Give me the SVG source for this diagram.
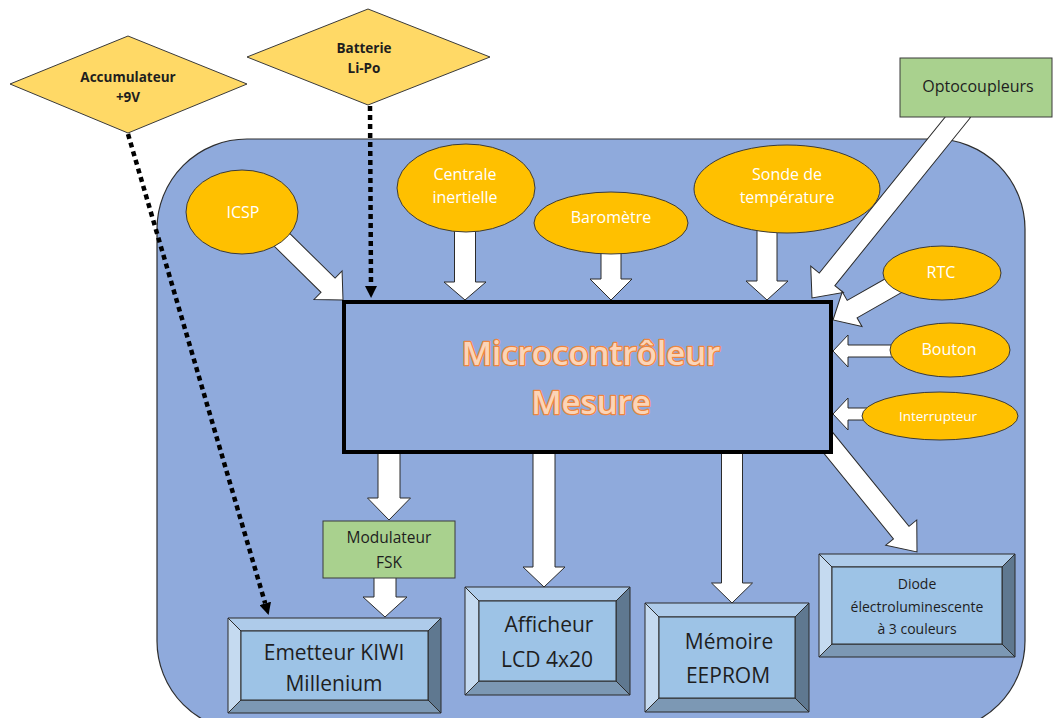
<svg xmlns="http://www.w3.org/2000/svg" width="1054" height="718" viewBox="0 0 1054 718">
  <defs>
    <style>
      .t { font-family: "Open Sans", "Liberation Sans", sans-serif; text-anchor: middle; }
      .w { fill: #ffffff; font-size: 16px; }
      .d { fill: #1e1e1e; }
      .ell { fill: #FFC000; stroke: #3a3a3a; stroke-width: 1; }
      .blk { fill: #ffffff; stroke: #2b2b2b; stroke-width: 1; stroke-linejoin: miter; }
      .dot { fill: none; stroke: #000000; stroke-width: 4.5; stroke-dasharray: 5 4; }
      .dia { fill: #FFD966; stroke: #3a3a3a; stroke-width: 1; }
      .grn { fill: #A9D18E; stroke: #3a3a3a; stroke-width: 1; }
      .bv { stroke: #2b2b2b; stroke-width: 1; stroke-linejoin: miter; }
      .bv-c { fill: #9DC3E6; }
      .bv-t { fill: #AECBEA; }
      .bv-l { fill: #C5DAF0; }
      .bv-r { fill: #5F7890; }
      .bv-b { fill: #7C98B4; }
      .title { font-family: "Open Sans", "Liberation Sans", sans-serif; text-anchor: middle; font-size: 33px; font-weight: 600; fill: #FBD5B8; stroke: #EE8640; stroke-width: 2.6; paint-order: stroke; stroke-linejoin: round; }
    </style>
    <marker id="dotHead" markerUnits="userSpaceOnUse" markerWidth="12" markerHeight="12" refX="0" refY="6" orient="auto">
      <path d="M0,0 L12,6 L0,12 z" fill="#000000"/>
    </marker>
  </defs>

  <rect width="1054" height="718" fill="#ffffff"/>

  <!-- enclosing board -->
  <g id="board">
    <rect x="157" y="139" width="868" height="592" rx="90" ry="90" fill="#8FAADC" stroke="#2e2e2e" stroke-width="1.2"/>
  </g>

  <!-- connectors -->
  <g id="connectors">
    <!-- inputs into the microcontroller -->
    <polygon class="blk" transform="translate(343,300) rotate(44.6)" points="-104,-10 -21,-10 -21,-20 0,0 -21,20 -21,10 -104,10"/>
    <polygon class="blk" points="454.5,225 475.5,225 475.5,282 486,282 465,300 444,282 454.5,282"/>
    <polygon class="blk" points="601,250 621,250 621,279 632,279 611,300 590,279 601,279"/>
    <polygon class="blk" points="757,228 777,228 777,281 788,281 767,300 746,281 757,281"/>
    <polygon class="blk" transform="translate(812,298) rotate(128.9)" points="-240,-10 -24,-10 -24,-21 0,0 -24,21 -24,10 -240,10"/>
    <polygon class="blk" transform="translate(833,320) rotate(150.4)" points="-78,-10 -22,-10 -22,-20 0,0 -22,20 -22,10 -78,10"/>
    <polygon class="blk" transform="translate(833,351) rotate(180)" points="-62,-6 -15,-6 -15,-16 0,0 -15,16 -15,6 -62,6"/>
    <polygon class="blk" transform="translate(833,414) rotate(180)" points="-40,-6 -15,-6 -15,-16 0,0 -15,16 -15,6 -40,6"/>
    <!-- outputs from the microcontroller -->
    <polygon class="blk" points="378,450 400,450 400,498 410.5,498 389,520 367.5,498 378,498"/>
    <polygon class="blk" points="374,576 396,576 396,597 407,597 385,617 363,597 374,597"/>
    <polygon class="blk" points="533,450 555,450 555,567 565,567 544,587 523,567 533,567"/>
    <polygon class="blk" points="721.5,450 742.5,450 742.5,583 752.5,583 732,603 711.5,583 721.5,583"/>
    <polygon class="blk" transform="translate(917,552) rotate(50.9)" points="-146,-10 -25,-10 -25,-20 0,0 -25,20 -25,10 -146,10"/>
    <!-- power supply lines -->
    <line class="dot" x1="128" y1="134" x2="265.2" y2="603.4" marker-end="url(#dotHead)"/>
    <line class="dot" x1="370" y1="106" x2="371" y2="286" marker-end="url(#dotHead)"/>
  </g>

  <!-- microcontroller -->
  <g id="mcu">
    <rect x="344" y="302" width="487" height="150" fill="#8FAADC" stroke="#000000" stroke-width="4"/>
    <text class="title" x="591" y="365">Microcontrôleur</text>
    <text class="title" x="591" y="414">Mesure</text>
  </g>

  <!-- sensors and inputs -->
  <g id="icsp">
    <ellipse class="ell" cx="242" cy="212" rx="56" ry="42"/>
    <text class="t w" x="243" y="218">ICSP</text>
  </g>
  <g id="centrale">
    <ellipse class="ell" cx="466" cy="188" rx="69" ry="44"/>
    <text class="t w" x="465" y="180">Centrale</text>
    <text class="t w" x="465" y="203">inertielle</text>
  </g>
  <g id="barometre">
    <ellipse class="ell" cx="611" cy="223" rx="77" ry="31"/>
    <text class="t w" x="611" y="223">Baromètre</text>
  </g>
  <g id="sonde">
    <ellipse class="ell" cx="787" cy="189" rx="93" ry="44"/>
    <text class="t w" x="787" y="180">Sonde de</text>
    <text class="t w" x="787" y="203">température</text>
  </g>
  <g id="rtc">
    <ellipse class="ell" cx="942" cy="273" rx="59" ry="27"/>
    <text class="t w" x="941" y="278">RTC</text>
  </g>
  <g id="bouton">
    <ellipse class="ell" cx="950" cy="350" rx="60" ry="27"/>
    <text class="t w" x="949" y="355">Bouton</text>
  </g>
  <g id="interrupteur">
    <ellipse class="ell" cx="940" cy="416" rx="78" ry="24"/>
    <text class="t w" x="938" y="421" style="font-size:13.5px">Interrupteur</text>
  </g>
  <g id="optocoupleurs">
    <rect class="grn" x="900" y="58" width="152" height="59"/>
    <text class="t d" x="978" y="92" style="font-size:16px">Optocoupleurs</text>
  </g>

  <!-- power sources -->
  <g id="accumulateur">
    <polygon class="dia" points="10,84 128,36 247,84 128,133"/>
    <text class="t d" x="128" y="82" style="font-size:13.5px;font-weight:bold">Accumulateur</text>
    <text class="t d" x="128" y="102" style="font-size:13.5px;font-weight:bold">+9V</text>
  </g>
  <g id="batterie">
    <polygon class="dia" points="247,57 368,9 490,57 368,105"/>
    <text class="t d" x="364" y="53" style="font-size:13.5px;font-weight:bold">Batterie</text>
    <text class="t d" x="364" y="73" style="font-size:13.5px;font-weight:bold">Li-Po</text>
  </g>

  <!-- outputs -->
  <g id="modulateur">
    <rect class="grn" x="323" y="521" width="132" height="57"/>
    <text class="t d" x="389" y="543" style="font-size:15.5px">Modulateur</text>
    <text class="t d" x="389" y="568" style="font-size:15.5px">FSK</text>
  </g>
  <g id="emetteur">
    <g class="bv">
      <polygon class="bv-t" points="228,618 441,618 428,631 241,631"/>
      <polygon class="bv-l" points="228,618 241,631 241,700 228,713"/>
      <polygon class="bv-r" points="441,618 441,713 428,700 428,631"/>
      <polygon class="bv-b" points="228,713 241,700 428,700 441,713"/>
      <rect class="bv-c" x="241" y="631" width="187" height="69"/>
    </g>
    <text class="t d" x="334" y="660" style="font-size:21px">Emetteur KIWI</text>
    <text class="t d" x="334" y="691" style="font-size:21px">Millenium</text>
  </g>
  <g id="afficheur">
    <g class="bv">
      <polygon class="bv-t" points="465,587 630,587 616,601 479,601"/>
      <polygon class="bv-l" points="465,587 479,601 479,681 465,695"/>
      <polygon class="bv-r" points="630,587 630,695 616,681 616,601"/>
      <polygon class="bv-b" points="465,695 479,681 616,681 630,695"/>
      <rect class="bv-c" x="479" y="601" width="137" height="80"/>
    </g>
    <text class="t d" x="549" y="632" style="font-size:21px">Afficheur</text>
    <text class="t d" x="547" y="667" style="font-size:21px">LCD 4x20</text>
  </g>
  <g id="memoire">
    <g class="bv">
      <polygon class="bv-t" points="645,603 809,603 795,617 659,617"/>
      <polygon class="bv-l" points="645,603 659,617 659,698 645,712"/>
      <polygon class="bv-r" points="809,603 809,712 795,698 795,617"/>
      <polygon class="bv-b" points="645,712 659,698 795,698 809,712"/>
      <rect class="bv-c" x="659" y="617" width="136" height="81"/>
    </g>
    <text class="t d" x="729" y="649" style="font-size:21px">Mémoire</text>
    <text class="t d" x="728" y="683" style="font-size:21px">EEPROM</text>
  </g>
  <g id="diode">
    <g class="bv">
      <polygon class="bv-t" points="819,554 1015,554 1002,567 832,567"/>
      <polygon class="bv-l" points="819,554 832,567 832,644 819,657"/>
      <polygon class="bv-r" points="1015,554 1015,657 1002,644 1002,567"/>
      <polygon class="bv-b" points="819,657 832,644 1002,644 1015,657"/>
      <rect class="bv-c" x="832" y="567" width="170" height="77"/>
    </g>
    <text class="t d" x="917" y="589" style="font-size:14px">Diode</text>
    <text class="t d" x="917" y="612" style="font-size:14px">électroluminescente</text>
    <text class="t d" x="917" y="634" style="font-size:14px">à 3 couleurs</text>
  </g>
</svg>
